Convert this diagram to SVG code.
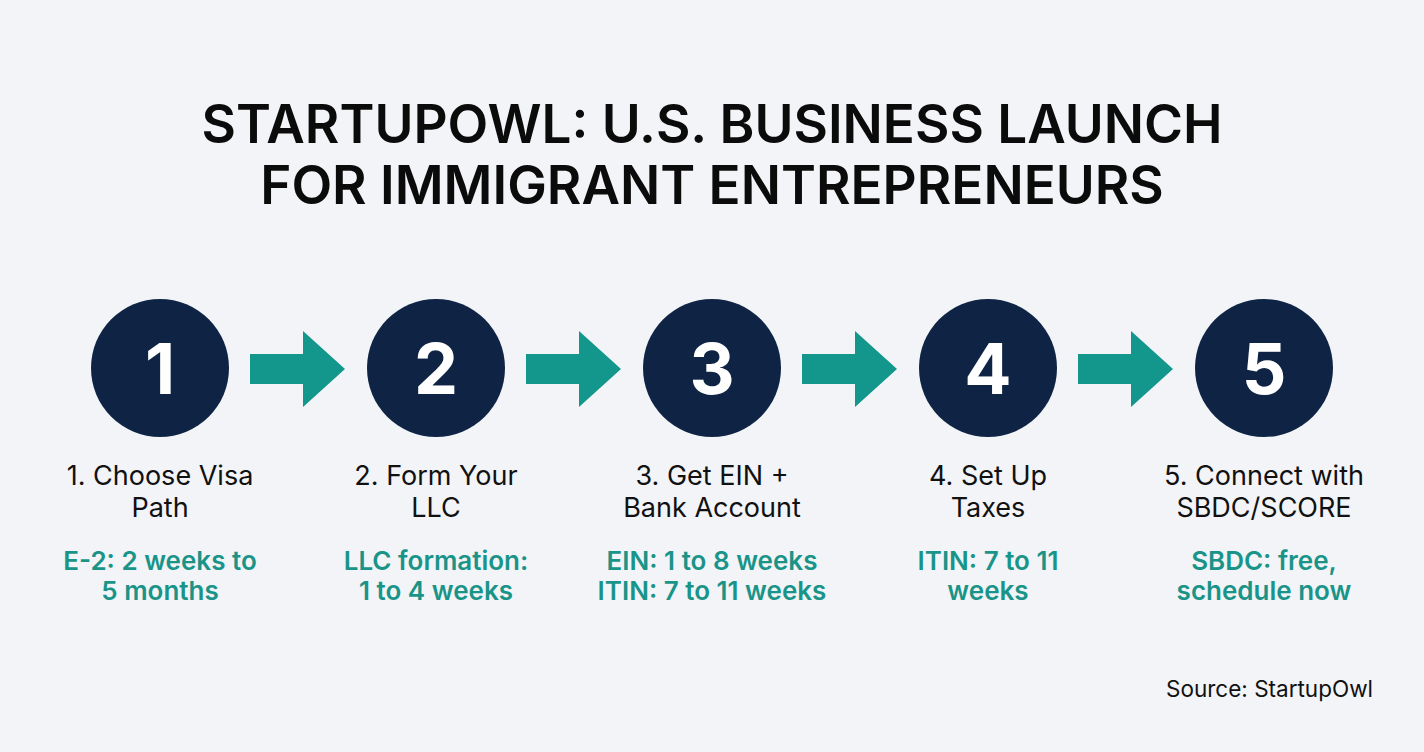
<svg xmlns="http://www.w3.org/2000/svg" width="1424" height="752" viewBox="0 0 1424 752">
<style>
.title{font-family:Inter,"Liberation Sans",sans-serif;font-size:53px;font-weight:600;fill:#0b0b0b;text-anchor:middle}
.num{font-family:Inter,"Liberation Sans",sans-serif;font-size:70px;font-weight:700;fill:#ffffff;text-anchor:middle}
.lbl{font-family:Inter,"Liberation Sans",sans-serif;font-size:27px;font-weight:400;fill:#111111;text-anchor:middle}
.sub{font-family:Inter,"Liberation Sans",sans-serif;font-size:26px;font-weight:600;fill:#1a9488;text-anchor:middle}
.circ{fill:#0f2445}
.arr{fill:#13968c}
.src{font-family:Inter,"Liberation Sans",sans-serif;font-size:22.5px;fill:#111111;text-anchor:end}
</style>
<rect width="1424" height="752" fill="#f2f4f8"/>
<text class="title" x="712" y="143">STARTUPOWL: U.S. BUSINESS LAUNCH</text>
<text class="title" x="712" y="204">FOR IMMIGRANT ENTREPRENEURS</text>
<g id="connectors">
<polygon class="arr" points="250,354 303,354 303,331 345,369 303,407 303,384 250,384"/>
<polygon class="arr" points="526,354 579,354 579,331 621,369 579,407 579,384 526,384"/>
<polygon class="arr" points="802,354 855,354 855,331 897,369 855,407 855,384 802,384"/>
<polygon class="arr" points="1078,354 1131,354 1131,331 1173,369 1131,407 1131,384 1078,384"/>
</g>
<g id="node1">
<circle class="circ" cx="160" cy="368" r="69"/>
<text class="num" x="160" y="394">1</text>
<text class="lbl" x="160" y="485">1. Choose Visa</text>
<text class="lbl" x="160" y="517">Path</text>
<text class="sub" x="160" y="570">E-2: 2 weeks to</text>
<text class="sub" x="160" y="600">5 months</text>
</g>
<g id="node2">
<circle class="circ" cx="436" cy="368" r="69"/>
<text class="num" x="436" y="394">2</text>
<text class="lbl" x="436" y="485">2. Form Your</text>
<text class="lbl" x="436" y="517">LLC</text>
<text class="sub" x="436" y="570">LLC formation:</text>
<text class="sub" x="436" y="600">1 to 4 weeks</text>
</g>
<g id="node3">
<circle class="circ" cx="712" cy="368" r="69"/>
<text class="num" x="712" y="394">3</text>
<text class="lbl" x="712" y="485">3. Get EIN +</text>
<text class="lbl" x="712" y="517">Bank Account</text>
<text class="sub" x="712" y="570">EIN: 1 to 8 weeks</text>
<text class="sub" x="712" y="600">ITIN: 7 to 11 weeks</text>
</g>
<g id="node4">
<circle class="circ" cx="988" cy="368" r="69"/>
<text class="num" x="988" y="394">4</text>
<text class="lbl" x="988" y="485">4. Set Up</text>
<text class="lbl" x="988" y="517">Taxes</text>
<text class="sub" x="988" y="570">ITIN: 7 to 11</text>
<text class="sub" x="988" y="600">weeks</text>
</g>
<g id="node5">
<circle class="circ" cx="1264" cy="368" r="69"/>
<text class="num" x="1264" y="394">5</text>
<text class="lbl" x="1264" y="485">5. Connect with</text>
<text class="lbl" x="1264" y="517">SBDC/SCORE</text>
<text class="sub" x="1264" y="570">SBDC: free,</text>
<text class="sub" x="1264" y="600">schedule now</text>
</g>
<text class="src" x="1373" y="697">Source: StartupOwl</text>
</svg>
